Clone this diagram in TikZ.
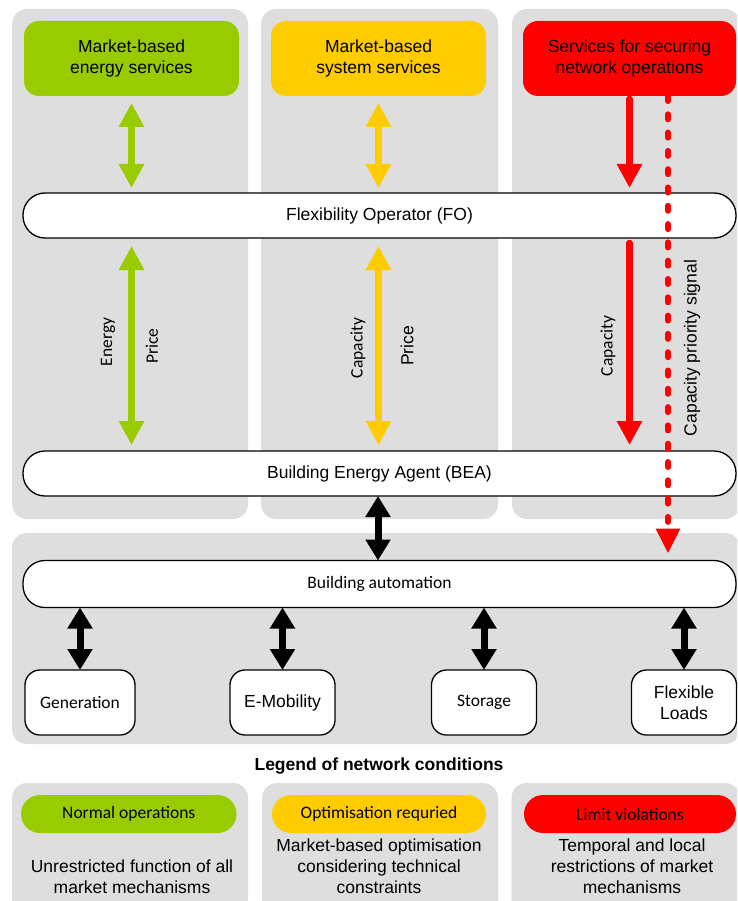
\documentclass[tikz,border=0pt]{standalone}
\usepackage{fontspec}
\setmainfont{Liberation Sans}
\newfontfamily\calfont{Carlito}
\usetikzlibrary{arrows.meta}
\definecolor{panelgray}{HTML}{DEDEDE}
\definecolor{cgreen}{HTML}{99CC00}
\definecolor{cyellow}{HTML}{FFCC00}
\definecolor{cred}{HTML}{FF0000}
\begin{document}
\begin{tikzpicture}[x=1pt,y=-1pt,
  panel/.style={fill=panelgray, rounded corners=15pt},
  atxt/.style={font={\fontsize{17.5}{21}\selectfont}, align=center},
  ctxt/.style={font={\calfont\fontsize{17.5}{21}\selectfont}, align=center},
  service/.style={atxt, rounded corners=15pt, inner sep=0pt, outer sep=0pt,
    minimum height=75pt},
  bar/.style={draw=black, line width=1.3pt, fill=white, rounded corners=22pt,
    minimum width=713pt, inner sep=0pt, outer sep=0pt},
  device/.style={draw=black, line width=1.3pt, fill=white, rounded corners=15pt,
    minimum height=65pt, inner sep=0pt, outer sep=0pt},
  pill/.style={ctxt, rounded corners=19pt, minimum height=38pt, inner sep=0pt,
    outer sep=0pt},
  twoway/.style={line width=6.5pt, >={Triangle[width=24pt,length=24pt]}, <->},
  oneway/.style={line width=6.5pt, >={Triangle[width=24pt,length=24pt]}, ->,
    line cap=round},
  blackway/.style={line width=7pt, >={Triangle[width=24pt,length=21pt]}, <->},
  signal/.style={draw=cred, line width=6pt, line cap=round,
    dash pattern=on 5pt off 13.3pt, >={Triangle[width=23pt,length=25pt]}, ->}
]
\useasboundingbox (0,0) rectangle (737,901);
\clip (0,0) rectangle (737,901);

% background panels
\fill[panel] (12,9) rectangle (248,519);
\fill[panel] (261,9) rectangle (498,519);
\fill[panel] (512,9) rectangle (740,519);
\fill[panel] (12,533) rectangle (740,744);

% service boxes
\node[service, fill=cgreen, minimum width=215pt] (energy) at (131.5,58.5)
  {Market-based\\energy services};
\node[service, fill=cyellow, minimum width=215pt] (system) at (378.5,58.5)
  {Market-based\\system services};
\node[service, fill=cred, minimum width=213pt] (secure) at (629.5,58.5)
  {Services for securing\\network operations};

% operator and agent bars
\node[bar, atxt, minimum height=45pt] (fo) at (379.5,215.5) {Flexibility Operator (FO)};
\node[bar, atxt, minimum height=45pt] (bea) at (379.5,473.5) {Building Energy Agent (BEA)};
\node[bar, ctxt, minimum height=47pt] (ba) at (379.5,584) {Building automation};

% devices
\node[device, ctxt, minimum width=110pt] (gen) at (80,702.5) {Generation};
\node[device, atxt, minimum width=105pt] (emob) at (282.5,702.5) {E-Mobility};
\node[device, ctxt, minimum width=105pt] (stor) at (484,702.5) {Storage};
\node[device, atxt, minimum width=105pt] (flex) at (684,702.5) {Flexible\\Loads};

% market-based energy column
\draw[twoway, cgreen, shorten <=7pt, shorten >=5pt] (energy.south) -- (energy.south |- fo.north);
\draw[twoway, cgreen, shorten <=8pt, shorten >=6pt] (energy.south |- fo.south) -- (energy.south |- bea.north);
\node[ctxt, rotate=90] (lenergy) at (108,342) {Energy};
\node[ctxt, rotate=90] (lprice1) at (152,346) {Price};

% market-based system column
\draw[twoway, cyellow, shorten <=7pt, shorten >=5pt] (system.south) -- (system.south |- fo.north);
\draw[twoway, cyellow, shorten <=8pt, shorten >=6pt] (system.south |- fo.south) -- (system.south |- bea.north);
\node[ctxt, rotate=90] (lcap1) at (358,348) {Capacity};
\node[atxt, rotate=90] (lprice2) at (407,346) {Price};

% network security column
\draw[oneway, cred, shorten <=3pt, shorten >=5pt] (secure.south) -- (secure.south |- fo.north);
\draw[oneway, cred, shorten <=5pt, shorten >=6pt] (secure.south |- fo.south) -- (secure.south |- bea.north);
\node[ctxt, rotate=90] (lcap2) at (608,346) {Capacity};
\coordinate (sigtop) at ([xshift=38.5pt]secure.south);
\coordinate (sigbot) at (sigtop |- ba.north);
\draw[signal] (sigtop) -- ([yshift=7pt]sigbot);
\node[atxt, rotate=90] (lsignal) at (692,348) {Capacity priority signal};

% building level links
\draw[blackway] (bea.south -| 378,0) -- (ba.north -| 378,0);
\draw[blackway] (gen.north |- ba.south) -- (gen.north);
\draw[blackway] (emob.north |- ba.south) -- (emob.north);
\draw[blackway] (stor.north |- ba.south) -- (stor.north);
\draw[blackway] (flex.north |- ba.south) -- (flex.north);

% legend
\node[font={\bfseries\fontsize{17.5}{21}\selectfont}] (legend) at (379,766)
  {Legend of network conditions};
\fill[panel] (12,783) rectangle (248,915);
\fill[panel] (262,783) rectangle (498,915);
\fill[panel] (511.5,783) rectangle (740,915);
\node[pill, fill=cgreen, minimum width=215.5pt] (normal) at (128.75,814) {Normal operations};
\node[pill, fill=cyellow, minimum width=214pt] (optim) at (379,814) {Optimisation requried};
\node[pill, fill=cred, minimum width=212pt] (limit) at (630,814) {Limit violations};
\node[atxt] (dnormal) at (132,877) {Unrestricted function of all\\market mechanisms};
\node[atxt] (doptim) at (379,866) {Market-based optimisation\\considering technical\\constraints};
\node[atxt] (dlimit) at (632,866) {Temporal and local\\restrictions of market\\mechanisms};
\end{tikzpicture}
\end{document}
